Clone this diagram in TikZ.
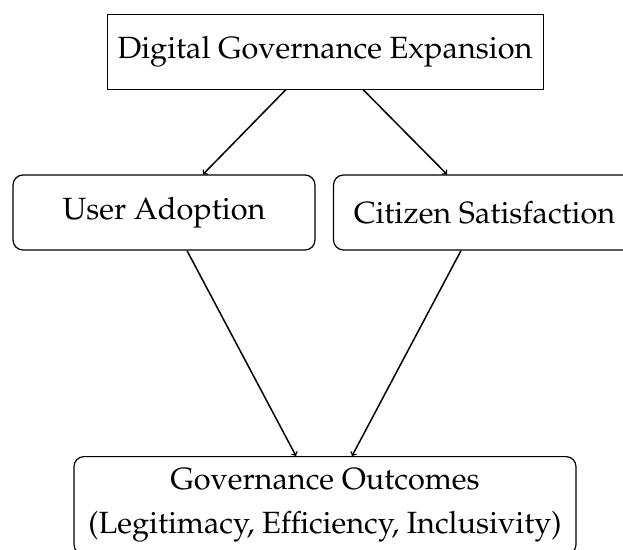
\documentclass[tikz,border=0pt]{standalone}
\usepackage[T1]{fontenc}
\usepackage{mathpazo}
\begin{document}
\begin{tikzpicture}[x=1pt,y=-1pt,
  box/.style={draw=black, line width=1pt, inner sep=0pt, font=\fontsize{30.7}{44}\selectfont},
  rbox/.style={box, line width=1.2pt, rounded corners=10pt},
  arr/.style={->, line width=1.5pt}]
\useasboundingbox (0,0) rectangle (623,549);
\node[box, minimum width=436pt, minimum height=75pt] (top) at (325,51.5) {Digital Governance Expansion};
\node[rbox, minimum width=302pt, minimum height=75pt] (user) at (164,212.5) {User Adoption};
\node[rbox, minimum width=302pt, minimum height=75pt] (cit) at (484.5,212.5) {Citizen Satisfaction};
\node[rbox, anchor=north, minimum width=502pt, inner ysep=12pt, align=center] (out) at (325,456) {Governance Outcomes\\(Legitimacy, Efficiency, Inclusivity)};
\draw[arr] ([xshift=-39pt]top.south) -- ([xshift=39pt]user.north);
\draw[arr] ([xshift=38pt]top.south) -- ([xshift=-37.5pt]cit.north);
\draw[arr] ([xshift=23pt]user.south) -- ([xshift=-29pt]out.north);
\draw[arr] ([xshift=-23.5pt]cit.south) -- ([xshift=27pt]out.north);
\end{tikzpicture}
\end{document}
